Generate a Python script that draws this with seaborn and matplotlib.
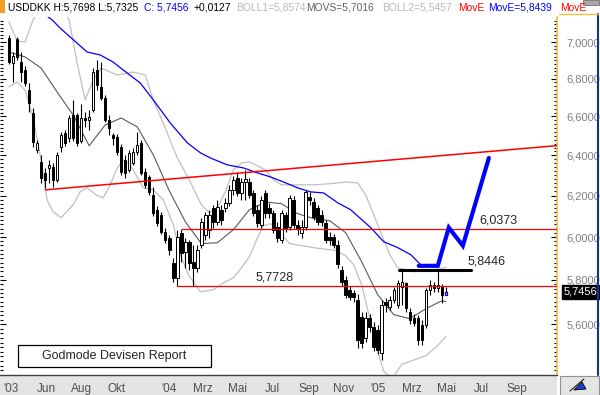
import numpy as np
import pandas as pd
import matplotlib
matplotlib.use('Agg')
import matplotlib.pyplot as plt
import matplotlib.dates as mdates
from matplotlib.patches import Rectangle, Polygon
from matplotlib.ticker import FixedLocator, NullFormatter
import seaborn as sns

# weekly USD/DKK candles (first week ending 2003-03-28)
start = pd.Timestamp('2003-03-28')
opens = [7.022, 6.885, 7.017, 6.890, 6.847, 6.740, 6.618, 6.428, 6.367, 6.312, 6.337, 6.342,
         6.277, 6.444, 6.515, 6.489, 6.608, 6.608, 6.474, 6.592, 6.582, 6.634, 6.847, 6.756,
         6.698, 6.582, 6.505, 6.494, 6.444, 6.377, 6.327, 6.362, 6.418, 6.464, 6.317, 6.292,
         6.203, 6.131, 6.107, 6.025, 5.997, 5.879, 5.810, 6.021, 5.931, 5.978, 5.884, 5.856,
         5.964, 6.011, 6.035, 6.141, 6.073, 6.131, 6.141, 6.165, 6.228, 6.287, 6.213, 6.267,
         6.267, 6.213, 6.131, 6.059, 6.213, 6.141, 6.116, 6.049, 5.987, 6.107, 6.049, 6.179,
         6.059, 6.021, 6.049, 6.194, 6.169, 6.141, 6.107, 6.069, 6.001, 6.001, 5.964, 5.847,
         5.801, 5.755, 5.742, 5.710, 5.634, 5.541, 5.629, 5.589, 5.576, 5.476, 5.701, 5.678,
         5.710, 5.687, 5.769, 5.787, 5.656, 5.629, 5.629, 5.598, 5.598, 5.755, 5.778, 5.764,
         5.769, 5.7335]
closes = [6.890, 6.923, 6.918, 6.836, 6.777, 6.672, 6.469, 6.464, 6.287, 6.277, 6.352, 6.277,
          6.403, 6.505, 6.464, 6.592, 6.489, 6.464, 6.592, 6.582, 6.597, 6.836, 6.767, 6.698,
          6.582, 6.540, 6.489, 6.418, 6.317, 6.312, 6.413, 6.418, 6.454, 6.312, 6.253, 6.218,
          6.116, 6.069, 6.025, 5.987, 5.940, 5.810, 6.001, 5.926, 5.978, 5.879, 5.856, 5.940,
          6.073, 6.107, 6.107, 6.073, 6.145, 6.083, 6.165, 6.228, 6.277, 6.213, 6.267, 6.282,
          6.203, 6.116, 6.069, 6.179, 6.116, 6.116, 6.035, 5.997, 6.116, 6.045, 6.189, 6.059,
          6.045, 6.049, 6.218, 6.179, 6.097, 6.073, 6.073, 5.987, 5.987, 5.964, 5.875, 5.792,
          5.733, 5.724, 5.724, 5.532, 5.519, 5.629, 5.589, 5.502, 5.489, 5.687, 5.687, 5.710,
          5.755, 5.787, 5.792, 5.674, 5.620, 5.607, 5.532, 5.532, 5.755, 5.778, 5.764, 5.778,
          5.7329, 5.7456]
highs = [7.039, 6.945, 7.028, 6.945, 6.869, 6.777, 6.645, 6.479, 6.403, 6.337, 6.377, 6.362,
         6.418, 6.520, 6.530, 6.608, 6.687, 6.618, 6.666, 6.624, 6.634, 6.858, 6.901, 6.890,
         6.714, 6.608, 6.515, 6.510, 6.459, 6.403, 6.428, 6.438, 6.520, 6.479, 6.337, 6.302,
         6.243, 6.150, 6.121, 6.045, 6.011, 5.903, 6.035, 6.040, 5.997, 5.987, 5.964, 5.964,
         6.093, 6.121, 6.131, 6.155, 6.179, 6.155, 6.189, 6.253, 6.297, 6.317, 6.287, 6.327,
         6.287, 6.228, 6.155, 6.198, 6.228, 6.165, 6.131, 6.073, 6.131, 6.121, 6.203, 6.198,
         6.083, 6.083, 6.228, 6.218, 6.189, 6.155, 6.131, 6.083, 6.025, 6.016, 5.987, 5.865,
         5.819, 5.773, 5.755, 5.737, 5.656, 5.656, 5.647, 5.611, 5.598, 5.710, 5.719, 5.728,
         5.769, 5.801, 5.8446, 5.792, 5.674, 5.647, 5.643, 5.620, 5.764, 5.801, 5.792, 5.840,
         5.782, 5.7698]
lows = [6.879, 6.782, 6.901, 6.782, 6.762, 6.624, 6.444, 6.413, 6.262, 6.238, 6.262, 6.243,
        6.267, 6.418, 6.449, 6.469, 6.474, 6.449, 6.464, 6.546, 6.530, 6.624, 6.740, 6.687,
        6.572, 6.505, 6.454, 6.403, 6.302, 6.287, 6.317, 6.352, 6.403, 6.302, 6.238, 6.203,
        6.102, 6.054, 6.016, 5.973, 5.917, 5.792, 5.7728, 5.884, 5.856, 5.847, 5.774, 5.838,
        5.950, 5.987, 5.997, 6.045, 6.059, 6.059, 6.121, 6.150, 6.203, 6.198, 6.179, 6.179,
        6.189, 6.102, 6.049, 6.045, 6.093, 6.093, 6.021, 5.978, 5.973, 6.025, 6.035, 6.045,
        6.011, 5.997, 6.035, 6.155, 6.083, 6.059, 6.054, 5.973, 5.964, 5.950, 5.856, 5.774,
        5.719, 5.710, 5.701, 5.498, 5.498, 5.524, 5.567, 5.481, 5.468, 5.446, 5.656, 5.665,
        5.696, 5.674, 5.687, 5.656, 5.602, 5.594, 5.511, 5.511, 5.585, 5.733, 5.746, 5.746,
        5.696, 5.7325]

# indicator lines, position in weeks from the first candle
movs_wk = [0, 4, 8, 12, 16, 20, 24, 28, 32, 36, 40, 44, 48, 52, 56, 60, 64, 68, 72, 76,
           80, 84, 88, 92, 96, 100, 104, 108, 109]
movs = [6.945, 6.918, 6.858, 6.729, 6.608, 6.449, 6.556, 6.592, 6.546, 6.403, 6.223, 6.073,
        5.969, 5.973, 6.035, 6.131, 6.169, 6.160, 6.112, 6.088, 6.078, 6.021, 5.884, 5.733,
        5.643, 5.625, 5.669, 5.705, 5.7016]
boll1_wk = [0, 2, 4, 6, 9, 12, 15, 17, 19, 21, 23, 27, 31, 34, 36, 39, 42, 45, 48, 50, 52,
            54, 56, 58, 60, 62, 64, 66, 68, 72, 76, 80, 84, 87, 89, 91, 93, 95, 97, 101, 105, 109]
boll1 = [7.112, 7.006, 7.000, 7.124, 7.24, 7.24, 7.124, 6.885, 6.687, 6.793, 6.858, 6.820,
         6.836, 6.820, 6.687, 6.540, 6.387, 6.277, 6.155, 6.116, 6.141, 6.218, 6.327, 6.362,
         6.367, 6.347, 6.327, 6.277, 6.253, 6.253, 6.253, 6.258, 6.267, 6.262, 6.203, 6.107,
         6.011, 5.917, 5.856, 5.838, 5.842, 5.8574]
boll2_wk = [0, 2, 4, 6, 8, 9.5, 11, 13, 16, 17.75, 19.5, 22, 23.5, 25.25, 27, 28.5, 30.25,
            33.5, 36, 38.5, 41, 42.75, 44.75, 47.75, 51, 54, 56, 58, 60, 62, 63.5, 65.25, 67,
            70, 76, 81.5, 84, 86, 88, 90, 92, 93.5, 95.5, 98, 102, 104, 107, 109]
boll2 = [6.756, 6.782, 6.740, 6.597, 6.377, 6.179, 6.121, 6.093, 6.155, 6.218, 6.238, 6.200,
         6.189, 6.253, 6.337, 6.377, 6.352, 6.238, 6.228, 6.179, 6.059, 5.917, 5.824, 5.746,
         5.755, 5.792, 5.810, 5.856, 5.907, 5.997, 6.054, 6.064, 6.035, 5.969, 5.950, 5.936,
         5.912, 5.870, 5.778, 5.629, 5.481, 5.397, 5.363, 5.425, 5.450, 5.463, 5.507, 5.5457]
move_wk = [8, 10.75, 12.75, 15.25, 19.5, 22.75, 26, 28.5, 32.75, 36, 40.25, 44.5, 47.75, 50.25,
           54.5, 58.5, 62, 65.25, 68.5, 72, 75.25, 78.5, 82, 85.25, 90.25, 93.5, 97, 100.25, 103]
move = [7.169, 7.124, 7.078, 7.028, 6.945, 6.929, 6.890, 6.847, 6.777, 6.687, 6.566, 6.464,
        6.413, 6.387, 6.352, 6.337, 6.312, 6.292, 6.267, 6.238, 6.218, 6.213, 6.165, 6.131,
        6.045, 5.978, 5.950, 5.917, 5.865]
proj_wk = [102.25, 107, 109.75, 113.25, 119.75]
proj = [5.865, 5.865, 6.045, 5.959, 6.387]
trend_wk = [9, 137]
trend = [6.228, 6.450]

levels = [6.0373, 5.7728]
level_from_wk = [43.25, 42]
resist = 5.8446
resist_wk = [97.25, 115.25]

ytick_vals = [5.6, 5.8, 6.0, 6.2, 6.4, 6.6, 6.8, 7.0]
xtick_dates = ['2003-04-01', '2003-06-01', '2003-08-01', '2003-10-01', '2004-01-01',
               '2004-03-01', '2004-05-01', '2004-07-01', '2004-09-01', '2004-11-01',
               '2005-01-01', '2005-03-01', '2005-05-01', '2005-07-01', '2005-09-01']
xtick_labels = ["'03", 'Jun', 'Aug', 'Okt', "'04", 'Mrz', 'Mai', 'Jul', 'Sep', 'Nov',
                "'05", 'Mrz', 'Mai', 'Jul', 'Sep']


def wk(w):
    return mdates.date2num(start + pd.to_timedelta(np.asarray(w, dtype=float) * 7, unit='D'))


def comma(v, nd=4):
    return f'{v:.{nd}f}'.replace('.', ',')


sns.set_style('white')
plt.rcParams['font.family'] = ['Liberation Sans', 'DejaVu Sans']

fig = plt.figure(figsize=(6, 3.95), dpi=100)
fig.patch.set_facecolor('white')
ax = fig.add_axes([0, 20 / 395, 557 / 600, 358 / 395])
ax.set_yscale('log')
ax.set_facecolor('white')

x = wk(np.arange(len(closes)))
o = np.array(opens)
c = np.array(closes)
up = c >= o

# indicators
sns.lineplot(x=wk(boll1_wk), y=boll1, ax=ax, color='#c0c0c0', lw=0.9, zorder=2)
sns.lineplot(x=wk(boll2_wk), y=boll2, ax=ax, color='#c0c0c0', lw=0.9, zorder=2)
sns.lineplot(x=wk(movs_wk), y=movs, ax=ax, color='#5a5a5a', lw=0.8, zorder=2)
sns.lineplot(x=wk(move_wk), y=move, ax=ax, color='#0000ff', lw=0.9, zorder=2)

# candles
ax.vlines(x, lows, highs, color='black', lw=0.8, zorder=3)
body_lo = np.minimum(o, c)
body_h = np.maximum(np.abs(c - o), 0.004)
ax.bar(x[~up], body_h[~up], bottom=body_lo[~up], width=4.2, color='black',
       edgecolor='black', lw=0.7, zorder=4)
ax.bar(x[up], body_h[up], bottom=body_lo[up], width=4.2, color='white',
       edgecolor='black', lw=0.7, zorder=4)
ax.bar(x[-1:], body_h[-1:], bottom=body_lo[-1:], width=4.2, color='white',
       edgecolor='#0000ff', lw=0.9, zorder=5)

# drawn levels
xr = wk(140)
for lv, w0 in zip(levels, level_from_wk):
    ax.plot([wk(w0), xr], [lv, lv], color='#ff0000', lw=0.9, zorder=5)
ax.plot(wk(trend_wk), trend, color='#ff0000', lw=1.1, zorder=5)
ax.plot(wk(resist_wk), [resist, resist], color='black', lw=2.2, zorder=6)
ax.plot(wk(proj_wk), proj, color='#0000ff', lw=3.0, zorder=6, solid_joinstyle='miter')

ax.text(wk(117.5), 6.048, comma(levels[0]), fontsize=9, ha='left', va='bottom', zorder=7)
ax.text(wk(114.5), 5.858, comma(resist), fontsize=9, ha='left', va='bottom', zorder=7)
ax.text(wk(61.5), 5.783, comma(levels[1]), fontsize=9, ha='left', va='bottom', zorder=7)

# axes
ax.set_xlim(wk(-2.25), wk(136.75))
ax.set_ylim(5.380, 7.140)
ax.yaxis.set_major_locator(FixedLocator(ytick_vals))
ax.yaxis.set_minor_locator(FixedLocator(np.arange(5.40, 7.14, 0.02)))
ax.yaxis.set_major_formatter(plt.FuncFormatter(lambda v, p: comma(v)))
ax.yaxis.set_minor_formatter(NullFormatter())
ax.tick_params(axis='y', which='both', left=True, right=True, labelleft=False,
               labelright=True, direction='in', colors='black', labelcolor='#808080',
               labelsize=8, pad=7)
ax.tick_params(axis='y', which='major', length=4, width=0.8)
ax.tick_params(axis='y', which='minor', length=2, width=0.8)

ax.set_xticks(wk([(pd.Timestamp(d) - start).days / 7 for d in xtick_dates]))
ax.set_xticklabels(xtick_labels)
ax.tick_params(axis='x', direction='out', length=3, width=0.6, colors='#808080',
               labelcolor='#505050', labelsize=8.5, pad=3)
ax.set_xlabel('')
ax.set_ylabel('')
ax.grid(False)
for s in ['top', 'left']:
    ax.spines[s].set_visible(False)
ax.spines['right'].set_color('#f0c040')
ax.spines['right'].set_linewidth(1.2)
ax.spines['bottom'].set_color('#404040')
ax.spines['bottom'].set_linewidth(1.0)

# bottom band and right panel frame (drawn under the axes)
fig.patches.append(Rectangle((0, 0), 557 / 600, 20 / 395, transform=fig.transFigure,
                             facecolor='#e4e4e4', edgecolor='none', zorder=-1))
fig.patches.append(Rectangle((560 / 600, 0.5 / 395), 38.5 / 600, 19 / 395,
                             transform=fig.transFigure, facecolor='#e4e4e4',
                             edgecolor='#909090', lw=0.8, zorder=-1))
fig.add_artist(plt.Line2D([598 / 600, 598 / 600], [20 / 395, 381 / 395],
                          transform=fig.transFigure, color='#1030a0', lw=1.5))
fig.add_artist(plt.Line2D([559 / 600, 598 / 600], [381 / 395, 381 / 395],
                          transform=fig.transFigure, color='#f0c040', lw=1.0))
# small pen icon in the corner box and grey bar top right
fig.add_artist(Polygon([(574 / 600, 5 / 395), (582 / 600, 13 / 395), (586 / 600, 6 / 395)],
                       closed=True, transform=fig.transFigure, facecolor='#2040d0',
                       edgecolor='black', lw=0.6))
fig.add_artist(plt.Line2D([570 / 600, 584 / 600], [4 / 395, 16 / 395],
                          transform=fig.transFigure, color='black', lw=0.7))
fig.patches.append(Rectangle((583 / 600, 390 / 395), 16 / 600, 5 / 395,
                             transform=fig.transFigure, facecolor='#a8a8a8',
                             edgecolor='#707070', lw=0.6))

# last price tag
ax.text(1.012, closes[-1], comma(closes[-1]), transform=ax.get_yaxis_transform(),
        color='white', fontsize=8, va='center', ha='left',
        bbox=dict(boxstyle='square,pad=0.15', fc='black', ec='black'))

# report box
ax.add_patch(Rectangle((18 / 557, 8 / 358), 193 / 557, 22 / 358, transform=ax.transAxes,
                       facecolor='white', edgecolor='black', lw=0.9, zorder=8))
ax.text(114.5 / 557, 19 / 358, 'Godmode Devisen Report', transform=ax.transAxes,
        ha='center', va='center', fontsize=9, zorder=9)

# header line
fig.patches.append(Rectangle((0, 382 / 395), 5 / 600, 13 / 395, transform=fig.transFigure,
                             facecolor='#f0a020', edgecolor='none'))
header = [(8, 'USDDKK H:5,7698 L:5,7325', 'black'),
          (144, 'C: 5,7456', '#0000ff'),
          (193, '+0,0127', 'black'),
          (236, 'BOLL1=5,8574', '#b8b8b8'),
          (306, 'MOVS=5,7016', '#606060'),
          (382, 'BOLL2=5,5457', '#b8b8b8'),
          (458, 'MovE', '#ff0000'),
          (488, 'MovE=5,8439', '#0000ff'),
          (560, 'MovE', '#ff0000')]
for px, txt, col in header:
    fig.text(px / 600, 1 - 8 / 395, txt, color=col, fontsize=7.4, va='center', ha='left')

fig.savefig('out.png', dpi=100)
